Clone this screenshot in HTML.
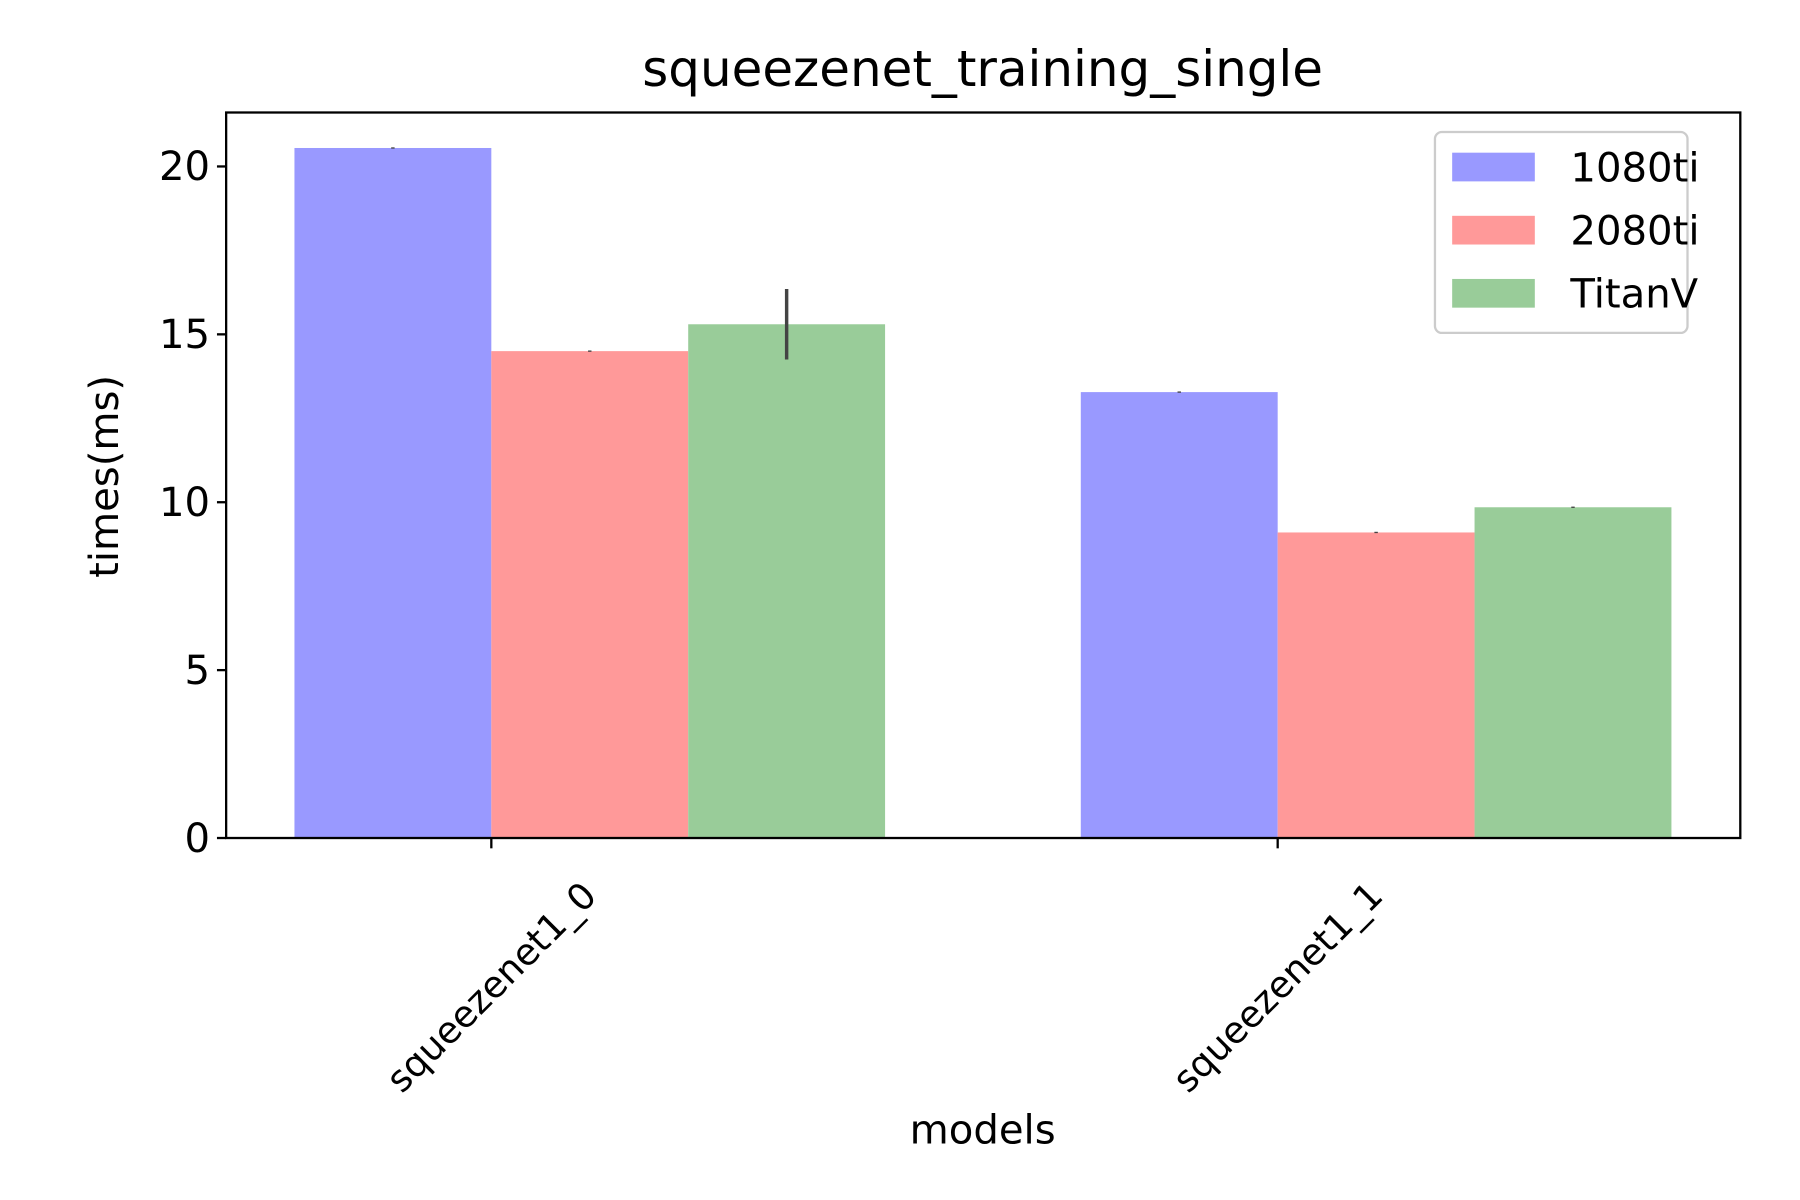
<!DOCTYPE html>
<html><head><meta charset="utf-8">
<style>html,body{margin:0;padding:0;background:#fff}svg{display:block}text{font-family:"DejaVu Sans","Liberation Sans",sans-serif;fill:#000}</style>
</head><body>
<svg id="chart" width="1800" height="1200" viewBox="0 0 1568 1045.33" xmlns="http://www.w3.org/2000/svg">
<rect width="1568" height="1045.33" fill="#fff"/>
<g id="bars"></g>
<rect x="197" y="98" width="1319" height="632" fill="none" stroke="#000" stroke-width="2"/>
<text x="856" y="75" font-size="43.5" text-anchor="middle">squeezenet_training_single</text>
<text transform="translate(103,415) rotate(-90)" font-size="35" text-anchor="middle">times(ms)</text>
<text x="856" y="996" font-size="35" text-anchor="middle">models</text>
<g id="axes"></g>
<g>
<rect x="1250" y="115" width="220" height="175" rx="6" fill="#fff" fill-opacity="0.8" stroke="#ccc" stroke-width="2"/>
<rect x="1265" y="133" width="72" height="25" fill="#9999ff"/>
<text x="1368" y="158" font-size="35">1080ti</text>
<rect x="1265" y="188" width="72" height="25" fill="#ff9999"/>
<text x="1368" y="213" font-size="35">2080ti</text>
<rect x="1265" y="243" width="72" height="25" fill="#99cc99"/>
<text x="1368" y="268" font-size="35">TitanV</text>
</g>
</svg>
<script>
const categories = ["squeezenet1_0", "squeezenet1_1"];
const seriesNames = ["1080ti", "2080ti", "TitanV"];
const v1080ti = [20.55, 13.28];
const v2080ti = [14.5, 9.1];
const vTitanV = [15.3, 9.85];
const err1080ti = [0.02, 0.02];
const err2080ti = [0.02, 0.02];
const errTitanV = [1.05, 0.02];
const yTicks = [0, 5, 10, 15, 20];

const NS = "http://www.w3.org/2000/svg";
const X0 = 197, Y0 = 730, YPX = 29.25;
const yScale = v => Y0 - v * YPX;
const tickX = i => 428 + i * 685;
const barW = 171.5;
const colors = ["#9999ff", "#ff9999", "#99cc99"];
const series = [v1080ti, v2080ti, vTitanV];
const errs = [err1080ti, err2080ti, errTitanV];
const barsG = document.getElementById("bars");
const axesG = document.getElementById("axes");
function mk(tag, attrs, parent) {
  const e = document.createElementNS(NS, tag);
  for (const k in attrs) e.setAttribute(k, attrs[k]);
  parent.appendChild(e);
  return e;
}
series.forEach((vals, s) => {
  vals.forEach((v, i) => {
    const left = tickX(i) - barW + s * barW;
    const r = mk("rect", {x: left, y: yScale(v), width: barW, height: Y0 - yScale(v), fill: colors[s]}, barsG);
    
    
    const cx = left + barW / 2;
    const e = mk("line", {x1: cx, x2: cx, y1: yScale(v + errs[s][i]), y2: yScale(v - errs[s][i]), stroke: "#444", "stroke-width": 3}, barsG);
    
    
  });
});
yTicks.forEach(t => {
  const y = yScale(t);
  const l = mk("line", {x1: X0 - 8, x2: X0, y1: y, y2: y, stroke: "#000", "stroke-width": 2}, axesG);
  
  
  const tx = mk("text", {x: X0 - 14, y: y + 12, "font-size": 35, "text-anchor": "end"}, axesG);
  tx.textContent = t;
  
  
});
categories.forEach((c, i) => {
  const x = tickX(i);
  const l = mk("line", {x1: x, x2: x, y1: Y0, y2: Y0 + 9, stroke: "#000", "stroke-width": 2}, axesG);
  
  
  const tx = mk("text", {transform: "translate(" + x + ",860) rotate(-45)", "font-size": 32, "text-anchor": "middle", "dominant-baseline": "central"}, axesG);
  tx.textContent = c;
  
  
});
</script>
</body></html>
